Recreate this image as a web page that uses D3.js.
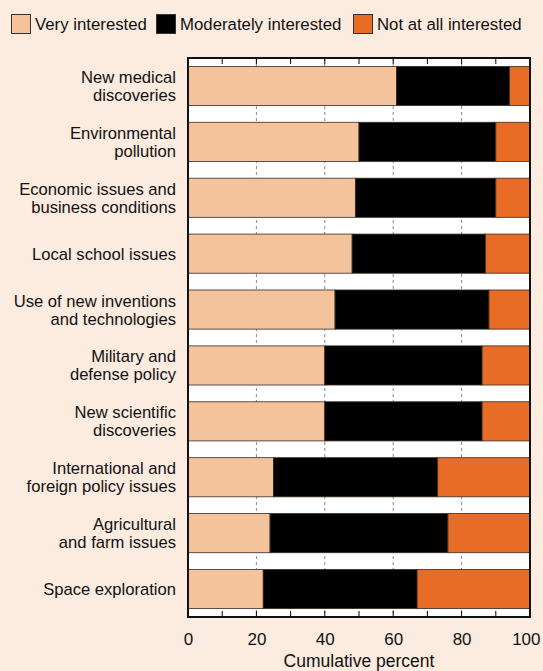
<!DOCTYPE html>
<html>
<head>
<meta charset="utf-8">
<script src="https://cdn.jsdelivr.net/npm/d3@7"></script>
<style>
  body { margin: 0; background: #fcebdf; }
  svg { display: block; font-family: "Liberation Sans", Arial, sans-serif; }
</style>
</head>
<body>
<div id="chart"></div>
<script>
// Topics, top to bottom
const topics = [
    ["New medical", "discoveries"],
    ["Environmental", "pollution"],
    ["Economic issues and", "business conditions"],
    ["Local school issues"],
    ["Use of new inventions", "and technologies"],
    ["Military and", "defense policy"],
    ["New scientific", "discoveries"],
    ["International and", "foreign policy issues"],
    ["Agricultural", "and farm issues"],
    ["Space exploration"]
];

// Percent of respondents per answer
const veryInterested     = [61, 50, 49, 48, 43, 40, 40, 25, 24, 22];
const moderatelyInterested = [33, 40, 41, 39, 45, 46, 46, 48, 52, 45];
const notInterested      = [6, 10, 10, 13, 12, 14, 14, 27, 24, 33];

const seriesNames = ["Very interested", "Moderately interested", "Not at all interested"];
const seriesColors = ["#f4c29b", "#000000", "#e86c25"];
const xTicks = [0, 20, 40, 60, 80, 100];
const minorTicks = [10, 30, 50, 70, 90];

const W = 543, H = 671;
const margin = {top: 58, right: 13, bottom: 54, left: 188};
const width = W - margin.left - margin.right;
const height = H - margin.top - margin.bottom;

const svg = d3.select("#chart").append("svg")
    .attr("width", W)
    .attr("height", H);

// Legend
const legendX = [11, 156, 353];
seriesNames.forEach((name, i) => {
    svg.append("rect")
        .attr("x", legendX[i] + 0.5).attr("y", 14.5)
        .attr("width", 19).attr("height", 19)
        .attr("fill", seriesColors[i])
        .attr("stroke", "#333").attr("stroke-width", 1);
    svg.append("text")
        .attr("x", legendX[i] + 24).attr("y", 30)
        .attr("font-size", 16.8).attr("fill", "#111")
        .text(name);
});

const g = svg.append("g")
    .attr("transform", `translate(${margin.left},${margin.top})`);

const x = d3.scaleLinear().domain([0, 100]).range([0, width]);
const y = d3.scaleBand()
    .domain(d3.range(topics.length))
    .range([0, height])
    .paddingInner(0.3)
    .paddingOuter(0.15);

// White plot background
g.append("rect")
    .attr("width", width).attr("height", height)
    .attr("fill", "#fff");

// Dashed gridlines
g.selectAll(".grid")
    .data(xTicks.slice(1, -1))
    .join("line")
    .attr("x1", d => x(d)).attr("x2", d => x(d))
    .attr("y1", 0).attr("y2", height)
    .attr("stroke", "#888").attr("stroke-dasharray", "3,3");

// Stacked bars
const rows = topics.map((t, i) => [veryInterested[i], moderatelyInterested[i], notInterested[i]]);
rows.forEach((vals, i) => {
    let start = 0;
    vals.forEach((v, j) => {
        g.append("rect")
            .attr("x", x(start))
            .attr("y", y(i))
            .attr("width", x(start + v) - x(start))
            .attr("height", y.bandwidth())
            .attr("fill", seriesColors[j])
            .attr("stroke", "#3a2a20").attr("stroke-width", 0.8);
        start += v;
    });
});

// Topic labels
topics.forEach((lines, i) => {
    const cy = y(i) + y.bandwidth() / 2;
    const lh = 18;
    const t = g.append("text")
        .attr("text-anchor", "end")
        .attr("font-size", 16.6).attr("fill", "#111");
    lines.forEach((line, k) => {
        t.append("tspan")
            .attr("x", -12)
            .attr("y", cy + 6 + (k - (lines.length - 1) / 2) * lh)
            .text(line);
    });
});

// Minor and major ticks at top and bottom
const allTicks = xTicks.concat(minorTicks);
g.selectAll(".tickTop")
    .data(allTicks)
    .join("line")
    .attr("x1", d => x(d)).attr("x2", d => x(d))
    .attr("y1", 0).attr("y2", 6)
    .attr("stroke", "#000").attr("stroke-width", 1);
g.selectAll(".tickBot")
    .data(allTicks)
    .join("line")
    .attr("x1", d => x(d)).attr("x2", d => x(d))
    .attr("y1", height).attr("y2", height - 6)
    .attr("stroke", "#000").attr("stroke-width", 1);

// Frame
g.append("rect")
    .attr("width", width).attr("height", height)
    .attr("fill", "none")
    .attr("stroke", "#111").attr("stroke-width", 2);

// X axis labels
const xAxis = g.append("g")
    .attr("transform", `translate(0,${height})`)
    .call(d3.axisBottom(x).tickValues(xTicks).tickSize(0).tickPadding(16));
xAxis.select(".domain").remove();
xAxis.selectAll("text")
    .attr("font-size", 17).attr("fill", "#111")
    .attr("font-family", "Liberation Sans, Arial, sans-serif");
// keep "100" inside the page
xAxis.selectAll(".tick").filter(d => d === 100).select("text")
    .attr("text-anchor", "end").attr("x", 10);

g.append("text")
    .attr("x", width / 2).attr("y", height + 50)
    .attr("text-anchor", "middle")
    .attr("font-size", 17.5).attr("fill", "#111")
    .text("Cumulative percent");
</script>
</body>
</html>
